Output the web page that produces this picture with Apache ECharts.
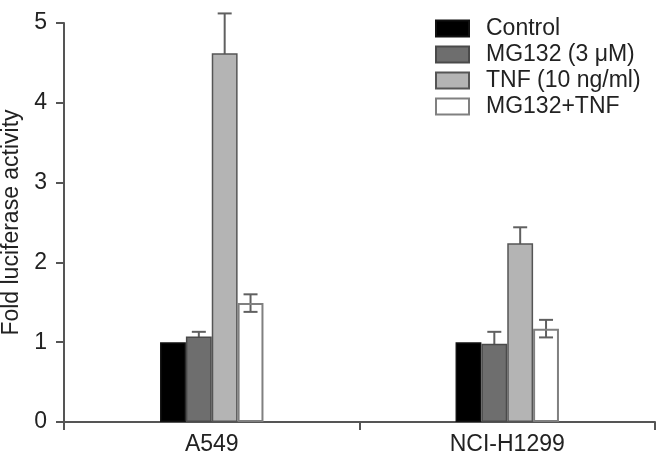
<!DOCTYPE html>
<html>
<head>
<meta charset="utf-8">
<script src="https://cdn.jsdelivr.net/npm/echarts@6/dist/echarts.min.js"></script>
<style>html,body{margin:0;padding:0;background:#fff;}#c{width:657px;height:466px;}</style>
</head>
<body>
<div id="c"></div>
<script>
var categories = ['A549', 'NCI-H1299'];
var seriesNames = ['Control', 'MG132 (3 \u03bcM)', 'TNF (10 ng/ml)', 'MG132+TNF'];
var controlVals = [1.0, 1.0];
var mg132Vals = [1.07, 0.98];
var tnfVals = [4.62, 2.24];
var comboVals = [1.49, 1.17];
var controlErr = [0, 0];
var mg132Err = [0.06, 0.15];
var tnfErr = [0.5, 0.2];
var comboErr = [0.11, 0.11];
var yTicks = [0, 1, 2, 3, 4, 5];

var FONT = "'Liberation Sans', Arial, sans-serif";
var vals = [controlVals, mg132Vals, tnfVals, comboVals];
var errs = [controlErr, mg132Err, tnfErr, comboErr];
var fills = ['#000000', '#6e6e6e', '#b4b4b4', 'rgba(255,255,255,0)'];
var borders = ['#111111', '#4a4a4a', '#555555', '#808080'];
var GAP = 0.65;

var errData = [];
for (var s = 0; s < 4; s++) {
  for (var c = 0; c < categories.length; c++) {
    if (errs[s][c] > 0) errData.push([c, vals[s][c], errs[s][c], s]);
  }
}

var series = [];
for (var i = 0; i < 4; i++) {
  series.push({
    name: seriesNames[i],
    type: 'bar',
    data: vals[i],
    barGap: '0%',
    barCategoryGap: (GAP * 100) + '%',
    z: 3,
    itemStyle: { color: fills[i], borderColor: borders[i], borderWidth: i === 3 ? 2 : 1.5 }
  });
}
series.push({
  type: 'custom',
  z: 2,
  silent: true,
  data: errData,
  renderItem: function (params, api) {
    var c = api.value(0), v = api.value(1), e = api.value(2), s = api.value(3);
    var center = api.coord([c, v]);
    var band = api.size([1, 0])[0];
    var bw = band * (1 - GAP) / 4;
    var x = center[0] + (s - 1.5) * bw;
    var yT = api.coord([c, v + e])[1];
    var yB = api.coord([c, v - e])[1];
    var cap = 7;
    var st = { stroke: '#606060', lineWidth: 2 };
    return {
      type: 'group',
      children: [
        { type: 'line', shape: { x1: x, y1: yT, x2: x, y2: yB }, style: st },
        { type: 'line', shape: { x1: x - cap, y1: yT, x2: x + cap, y2: yT }, style: st },
        { type: 'line', shape: { x1: x - cap, y1: yB, x2: x + cap, y2: yB }, style: st }
      ]
    };
  }
});

var chart = echarts.init(document.getElementById('c'), null, { renderer: 'canvas' });
chart.setOption({
  animation: false,
  backgroundColor: '#ffffff',
  textStyle: { fontFamily: FONT },
  grid: { left: 64, right: 2, top: 23, bottom: 44, containLabel: false, outerBoundsMode: 'none' },
  legend: {
    orient: 'vertical',
    left: 435,
    top: 17,
    padding: 0,
    icon: 'rect',
    itemWidth: 33,
    itemHeight: 16,
    itemGap: 3,
    data: seriesNames,
    textStyle: { fontFamily: FONT, fontSize: 23, color: '#222', lineHeight: 23, padding: [0, 0, 0, 12] }
  },
  xAxis: {
    type: 'category',
    data: categories,
    axisLine: { lineStyle: { color: '#555', width: 2 } },
    axisTick: { show: true, length: 8, lineStyle: { color: '#555', width: 2 } },
    axisLabel: { fontFamily: FONT, fontSize: 23, color: '#222', margin: 11 }
  },
  yAxis: {
    type: 'value',
    min: yTicks[0],
    max: yTicks[yTicks.length - 1],
    interval: 1,
    name: 'Fold luciferase activity',
    nameLocation: 'middle',
    nameGap: 40,
    nameTextStyle: { fontFamily: FONT, fontSize: 23, color: '#222' },
    splitLine: { show: false },
    axisLine: { show: true, lineStyle: { color: '#555', width: 2 } },
    axisTick: { show: true, length: 8, lineStyle: { color: '#555', width: 2 } },
    axisLabel: { fontFamily: FONT, fontSize: 23, color: '#222', margin: 17 }
  },
  series: series
});
</script>
</body>
</html>
